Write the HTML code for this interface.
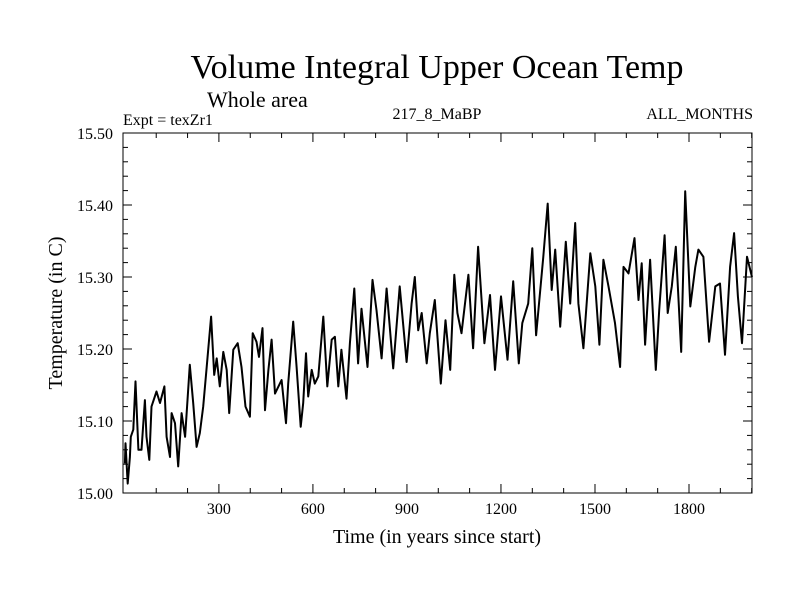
<!DOCTYPE html>
<html><head><meta charset="utf-8"><style>
html,body{margin:0;padding:0;background:#fff;}
svg{display:block;font-family:"Liberation Serif",serif;}
</style></head><body>
<svg id="chart" width="800" height="600" viewBox="0 0 800 600" xmlns="http://www.w3.org/2000/svg">
<text x="437" y="78" font-size="34" text-anchor="middle">Volume Integral Upper Ocean Temp</text>
<text x="207" y="107" font-size="22">Whole area</text>
<text x="123" y="125" font-size="16">Expt = texZr1</text>
<text x="437" y="119" font-size="16" text-anchor="middle">217_8_MaBP</text>
<text x="753" y="119" font-size="16" text-anchor="end">ALL_MONTHS</text>
<text transform="translate(62,313) rotate(-90)" font-size="20" text-anchor="middle">Temperature (in C)</text>
<text x="437" y="543" font-size="20" text-anchor="middle">Time (in years since start)</text>
<g id="axes"></g>
<g id="plot"></g>
</svg>
<script>
const years=[0,2,9,16,19,27,34,43,53,64,69,78,85,101,112,126,133,144,149,160,170,181,192,207,218,229,239,250,261,275,285,293,303,314,325,333,346,360,372,385,399,408,420,428,439,447,458,468,479,500,514,521,537,548,561,569,578,585,596,606,617,633,646,660,670,681,691,707,718,732,744,755,774,790,803,819,835,856,877,899,915,925,936,947,963,973,989,1008,1023,1038,1051,1061,1074,1096,1111,1127,1147,1165,1181,1200,1221,1239,1257,1268,1287,1300,1312,1335,1349,1362,1373,1389,1407,1421,1437,1447,1463,1485,1501,1514,1527,1543,1564,1580,1591,1607,1626,1639,1649,1660,1676,1694,1705,1722,1732,1745,1758,1775,1788,1804,1820,1830,1846,1864,1884,1899,1915,1931,1944,1956,1969,1985,2001];
const temps=[15.041,15.069,15.013,15.050,15.078,15.088,15.155,15.060,15.060,15.129,15.078,15.046,15.120,15.141,15.125,15.148,15.078,15.050,15.111,15.097,15.037,15.111,15.078,15.178,15.125,15.064,15.083,15.120,15.175,15.245,15.164,15.187,15.148,15.196,15.171,15.111,15.199,15.208,15.175,15.120,15.106,15.222,15.210,15.189,15.229,15.115,15.171,15.213,15.138,15.157,15.097,15.152,15.238,15.175,15.092,15.125,15.194,15.134,15.171,15.152,15.162,15.245,15.148,15.213,15.217,15.148,15.199,15.131,15.208,15.284,15.180,15.256,15.175,15.296,15.254,15.187,15.284,15.173,15.287,15.182,15.263,15.300,15.226,15.250,15.180,15.222,15.268,15.152,15.240,15.171,15.303,15.250,15.222,15.303,15.201,15.342,15.208,15.275,15.171,15.273,15.185,15.294,15.180,15.236,15.263,15.340,15.219,15.328,15.402,15.282,15.338,15.231,15.349,15.263,15.375,15.263,15.201,15.333,15.287,15.206,15.324,15.287,15.236,15.175,15.314,15.305,15.354,15.268,15.319,15.206,15.324,15.171,15.254,15.358,15.250,15.287,15.342,15.196,15.419,15.259,15.314,15.338,15.328,15.210,15.287,15.291,15.192,15.314,15.361,15.273,15.208,15.328,15.300];
const yTickLabels=["15.00","15.10","15.20","15.30","15.40","15.50"];
const xTickLabels=["300","600","900","1200","1500","1800"];
const NS="http://www.w3.org/2000/svg";
const L=123,R=752,T=133,B=493,X0=-6,X1=2001,Y0=15.0,Y1=15.5;
function sx(v){return L+(v-X0)/(X1-X0)*(R-L);}
function sy(v){return B-(v-Y0)/(Y1-Y0)*(B-T);}
function mk(tag,attrs,parent){const e=document.createElementNS(NS,tag);for(const k in attrs)e.setAttribute(k,attrs[k]);parent.appendChild(e);return e;}
const axes=document.getElementById('axes'),plot=document.getElementById('plot');
const frame=mk('rect',{x:L,y:T,width:R-L,height:B-T,fill:'none',stroke:'#000','stroke-width':1},axes);


for(let i=0;i<=25;i++){const v=Y0+i*0.02,y=sy(v),len=(i%5===0)?9:5;
 const t1=mk('line',{x1:L,x2:L+len,y1:y,y2:y,stroke:'#000'},axes);
 
 
 const t2=mk('line',{x1:R,x2:R-len,y1:y,y2:y,stroke:'#000'},axes);
 
 }
yTickLabels.forEach(s=>{const t=mk('text',{x:113,y:sy(parseFloat(s))+6,'font-size':16,'text-anchor':'end'},axes);t.textContent=s;
 
 });
for(let v=100;v<=2000;v+=100){const x=sx(v),len=(v%300===0)?9:5;
 const t1=mk('line',{x1:x,x2:x,y1:B,y2:B-len,stroke:'#000'},axes);
 
 
 const t2=mk('line',{x1:x,x2:x,y1:T,y2:T+len,stroke:'#000'},axes);
 
 }
xTickLabels.forEach(s=>{const t=mk('text',{x:sx(parseFloat(s)),y:B+21,'font-size':16,'text-anchor':'middle'},axes);t.textContent=s;
 
 });
const d=years.map((yr,i)=>(i?'L':'M')+sx(yr).toFixed(1)+','+sy(temps[i]).toFixed(1)).join('');
const line=mk('path',{d:d,fill:'none',stroke:'#000','stroke-width':2,'stroke-linejoin':'round'},plot);


</script>
</body></html>
